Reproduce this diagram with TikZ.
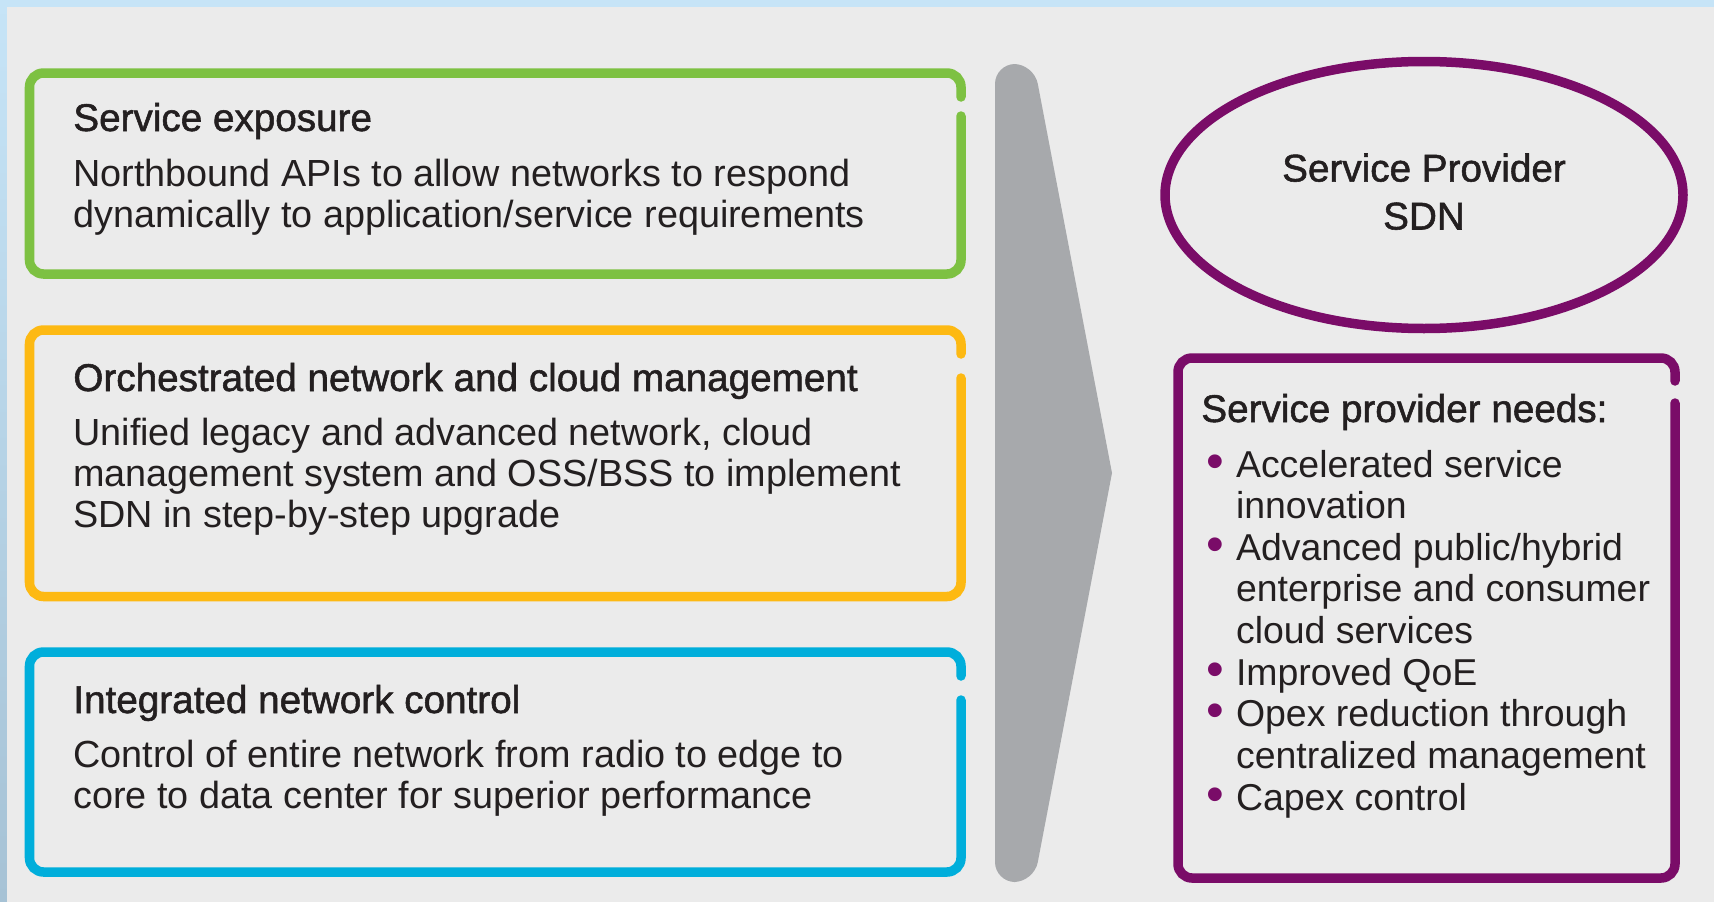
\documentclass[tikz,border=0pt]{standalone}
\usepackage{graphicx}
\usepackage{fontspec}
\setmainfont{Liberation Sans}
\newfontfamily\headfamily[FakeBold=1.4]{Liberation Sans}
\usetikzlibrary{shapes.geometric}

\definecolor{frametop}{HTML}{C6E4F7}
\definecolor{framebot}{HTML}{A6C2D5}
\definecolor{panelgray}{HTML}{EBEBEB}
\definecolor{arrowgray}{HTML}{A7A9AC}
\definecolor{textdark}{HTML}{231F20}
\definecolor{boxgreen}{HTML}{7DC142}
\definecolor{boxorange}{HTML}{FDB913}
\definecolor{boxblue}{HTML}{00AEDB}
\definecolor{sdnpurple}{HTML}{7A0C68}
\newcommand{\needdot}{\textcolor{sdnpurple}{\raisebox{-0.6pt}{\scalebox{1.35}{•}}}}

\begin{document}
\begin{tikzpicture}[
  boxline/.style={line width=0.19cm, rounded corners=0.28cm, line cap=round},
  headtext/.style={anchor=base west, inner sep=0pt, text=textdark, font=\headfamily\fontsize{22}{27.3}\selectfont},
  bodytext/.style={anchor=base west, inner sep=0pt, text=textdark, align=left, font=\fontsize{21.5}{23.25}\selectfont}]
\useasboundingbox (0,0) rectangle (34.28,-18.04);
% frame and panel
\shade[top color=frametop, bottom color=framebot] (0,0) rectangle (34.28,-18.04);
\fill[panelgray] (0.14,-0.14) rectangle (34.28,-18.04);

% the three boxes on the left, open on the right side
\draw[boxline, draw=boxgreen] (19.22,-2.32) -- (19.22,-5.48) -- (0.59,-5.48) -- (0.59,-1.46) -- (19.22,-1.46) -- (19.22,-1.94);
\draw[boxline, draw=boxorange] (19.22,-7.56) -- (19.22,-11.93) -- (0.59,-11.93) -- (0.59,-6.60) -- (19.22,-6.60) -- (19.22,-7.08);
\draw[boxline, draw=boxblue] (19.22,-14.00) -- (19.22,-17.44) -- (0.59,-17.44) -- (0.59,-13.04) -- (19.22,-13.04) -- (19.22,-13.52);

% body nodes sit on the baseline of their last line
\node[headtext] (expotitle) at (1.46,-2.62) {Service exposure};
\node[bodytext] (expotext) at (1.46,-4.54) {Northbound APIs to allow networks to respond\\dynamically to application/service requirements};
\node[headtext] (orchtitle) at (1.46,-7.82) {Orchestrated network and cloud management};
\node[bodytext] (orchtext) at (1.46,-10.54) {Unified legacy and advanced network, cloud\\management system and OSS/BSS to implement\\SDN in step-by-step upgrade};
\node[headtext] (ctrltitle) at (1.46,-14.26) {Integrated network control};
\node[bodytext] (ctrltext) at (1.46,-16.16) {Control of entire network from radio to edge to\\core to data center for superior performance};

% big arrow
\fill[arrowgray] (22.24,-9.46) [rounded corners=0.4cm] -- (20.68,-1.28) -- (19.90,-1.28) -- (19.90,-17.64) -- (20.68,-17.64) [sharp corners] -- cycle;

% right side
\node[ellipse, draw=sdnpurple, line width=0.19cm, minimum width=10.36cm, minimum height=5.34cm, inner sep=0pt] (sdn) at (28.48,-3.90) {};
\node[headtext, anchor=base, align=center] (sdntext) at (28.48,-4.59) {Service Provider\\SDN};

\draw[boxline, draw=sdnpurple] (33.50,-8.06) -- (33.50,-17.56) -- (23.56,-17.56) -- (23.56,-7.16) -- (33.50,-7.16) -- (33.50,-7.62);
\node[headtext] (needtitle) at (24.02,-8.44) {Service provider needs:};
\node[bodytext, font=\fontsize{21.3}{23.7}\selectfont] (needlist) at (24.12,-9.54) {\begin{tabular}[t]{@{}l@{\hspace{0.24cm}}l@{}}
\needdot & Accelerated service\\
 & innovation\\
\needdot & Advanced public/hybrid\\
 & enterprise and consumer\\
 & cloud services\\
\needdot & Improved QoE\\
\needdot & Opex reduction through\\
 & centralized management\\
\needdot & Capex control
\end{tabular}};
\end{tikzpicture}
\end{document}
